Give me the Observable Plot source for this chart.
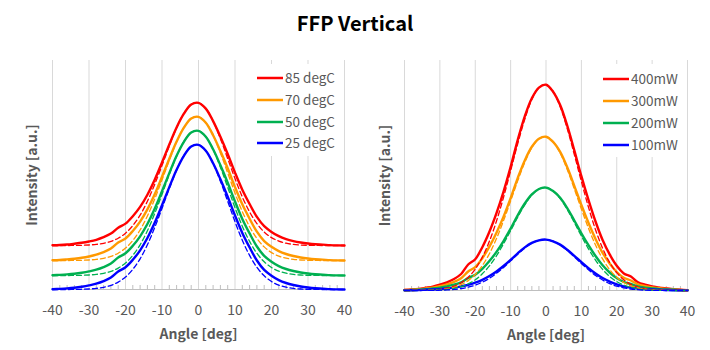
<!DOCTYPE html>
<html><head><meta charset="utf-8">
<script src="https://cdn.jsdelivr.net/npm/d3@7"></script>
<script src="https://cdn.jsdelivr.net/npm/@observablehq/plot@0.6"></script>
<style>
body{margin:0;background:#fff;font-family:"Noto Sans CJK JP","Noto Sans",sans-serif;}
#wrap{width:710px;height:350px;position:relative;overflow:hidden;}
#title{position:absolute;left:0;top:0;width:710px;height:46px;line-height:46px;text-align:center;font-weight:bold;font-size:20px;color:#000;}
#row{position:absolute;top:45px;left:0;display:flex;}
</style></head><body>
<div id="wrap"><div id="title">FFP Vertical</div><div id="row"></div></div>
<script>
const titleText = "FFP Vertical";
const xLabel = "Angle [deg]";
const yLabel = "Intensity [a.u.]";
const xTicks = [-40,-30,-20,-10,0,10,20,30,40];
const angles = [-40,-38,-36,-34,-32,-30,-28,-26,-24,-22,-20,-18,-16,-14,-12,-10,-8,-6,-4,-2,0,2,4,6,8,10,12,14,16,18,20,22,24,26,28,30,32,34,36,38,40];

// Left panel: temperature series (measured, solid)
const tempNames = ["85 degC","70 degC","50 degC","25 degC"];
const t85 = [44.2,44.5,45.0,45.8,46.7,48.0,49.7,52.3,55.9,61.8,65.9,73.3,82.6,94.8,109.8,127.1,145.0,162.1,175.8,185.0,186.7,180.9,168.4,152.7,135.5,116.9,99.8,85.5,72.6,63.3,57.6,53.3,50.4,48.4,47.0,46.0,45.3,44.9,44.4,44.1,44.0];
const t70 = [29.2,29.5,30.1,30.8,31.7,33.0,34.8,37.4,41.0,46.9,51.0,58.5,67.9,80.1,95.2,112.7,130.7,147.9,161.8,171.0,172.7,166.8,154.3,138.4,121.2,102.4,85.2,70.8,57.8,48.4,42.7,38.4,35.5,33.5,32.0,31.0,30.3,29.9,29.4,29.1,29.0];
const t50 = [14.2,14.6,15.1,15.8,16.8,18.1,19.8,22.4,26.0,32.0,36.2,43.7,53.2,65.5,80.7,98.2,116.4,133.8,147.7,157.0,158.7,152.8,140.2,124.2,106.8,88.0,70.6,56.1,43.0,33.6,27.8,23.4,20.5,18.5,17.0,16.0,15.3,14.9,14.4,14.1,14.0];
const t25 = [0.2,0.6,1.1,1.8,2.8,4.1,5.8,8.4,12.0,18.0,22.2,29.7,39.2,51.5,66.7,84.2,102.4,119.8,133.7,143.0,144.7,138.8,126.2,110.2,92.8,74.0,56.6,42.1,29.0,19.6,13.8,9.4,6.5,4.5,3.0,2.0,1.3,0.9,0.4,0.1,0];
// Left panel: fits (dashed)
const t85fit = [44,44,44,44.1,44.2,44.5,45.1,46.2,48.1,51.3,56.3,63.9,74.3,88.2,105.1,123.9,143.5,161.7,176.1,185.0,186.7,181.0,168.4,150.8,130.9,110.9,92.6,77.6,65.9,57.5,51.9,48.4,46.3,45.1,44.5,44.2,44.1,44,44,44,44];
const t70fit = [29,29,29,29.1,29.2,29.5,30.1,31.2,33.1,36.3,41.4,49.0,59.5,73.5,90.5,109.5,129.2,147.5,162.1,171.0,172.7,167.0,154.3,136.6,116.6,96.4,78.0,62.8,51.0,42.6,36.9,33.4,31.3,30.1,29.5,29.2,29.1,29,29,29,29];
const t50fit = [14,14,14,14.1,14.2,14.5,15.1,16.2,18.1,21.4,26.5,34.2,44.7,58.8,75.9,95.1,114.9,133.3,148.0,157.0,158.7,152.9,140.2,122.3,102.2,81.9,63.3,48.1,36.2,27.7,22.0,18.4,16.3,15.1,14.5,14.2,14.1,14,14,14,14];
const t25fit = [0,0,0,0.1,0.2,0.5,1.1,2.2,4.1,7.4,12.5,20.2,30.7,44.8,61.9,81.1,100.9,119.3,134.0,143.0,144.7,138.9,126.2,108.3,88.2,67.9,49.3,34.1,22.2,13.7,8.0,4.4,2.3,1.1,0.5,0.2,0.1,0,0,0,0];

// Right panel: power series (measured, solid)
const powNames = ["400mW","300mW","200mW","100mW"];
const p400 = [0.6,1.0,1.6,2.7,3.9,5.8,8.2,11.5,16.5,26.0,31.3,43.3,58.7,77.3,98.9,123.6,150.4,174.1,192.2,202.9,205.8,198.8,185.4,164.8,140.1,114.3,90.6,69.0,50.5,36.1,24.7,17.1,14.0,8.2,5.8,4.1,2.9,2.1,1.4,0.8,0.4];
const p300 = [0.5,0.8,1.2,2.0,2.9,4.3,6.2,8.6,12.3,19.0,23.4,32.3,43.9,57.8,73.9,92.4,112.4,130.1,143.7,151.7,153.8,148.6,138.6,123.2,104.7,85.5,67.8,51.6,37.7,27.0,18.5,12.8,10.0,6.2,4.3,3.1,2.2,1.5,1.1,0.6,0.3];
const p200 = [0.3,0.5,0.8,1.3,2.0,2.9,4.1,5.8,8.2,12.5,15.7,21.6,29.4,38.6,49.4,61.8,75.2,87.0,96.1,101.5,102.9,99.4,92.7,82.4,70.0,57.2,45.3,34.5,25.2,18.0,12.4,8.5,6.5,4.1,2.9,2.1,1.4,1.0,0.7,0.4,0.2];
const p100 = [0.2,0.3,0.4,0.7,1.0,1.4,2.0,2.9,4.1,5.6,7.8,10.7,14.5,19.1,24.5,30.6,37.2,43.1,47.6,50.2,50.9,49.2,45.9,40.8,34.7,28.3,22.4,17.1,12.5,8.9,6.1,4.2,2.9,2.0,1.4,1.0,0.7,0.5,0.4,0.2,0.1];
// Right panel: fits (dashed)
const p400fit = [0,0,0.1,0.3,0.6,1.2,2.3,4.3,7.8,13.2,21.4,33.4,49.2,69.4,93.3,119.7,146.7,171.2,191.0,202.9,205.8,199.2,183.8,161.9,136.0,109.0,83.4,60.8,42.2,28.0,17.8,10.7,6.2,3.4,1.8,0.9,0.4,0.2,0.1,0,0];
const p300fit = [0,0,0.1,0.2,0.4,0.9,1.7,3.2,5.8,9.9,16.0,24.9,36.8,51.9,69.8,89.5,109.6,128.0,142.8,151.7,153.8,148.9,137.4,121.0,101.6,81.5,62.4,45.4,31.6,20.9,13.3,8.0,4.6,2.6,1.3,0.7,0.3,0.1,0.1,0,0];
const p200fit = [0,0,0.1,0.1,0.3,0.6,1.2,2.2,3.9,6.6,10.7,16.7,24.6,34.7,46.7,59.8,73.3,85.6,95.5,101.5,102.9,99.6,91.9,81.0,68.0,54.5,41.7,30.4,21.1,14.0,8.9,5.4,3.1,1.7,0.9,0.4,0.2,0.1,0,0,0];
const p100fit = [0,0,0,0.1,0.1,0.3,0.6,1.1,1.9,3.3,5.3,8.3,12.2,17.2,23.1,29.6,36.3,42.4,47.3,50.2,50.9,49.3,45.5,40.1,33.7,27.0,20.7,15.0,10.5,6.9,4.4,2.7,1.5,0.8,0.4,0.2,0.1,0,0,0,0];

const colors = ["#ff0000","#ff9900","#00b050","#0000ff"];
const FONT = '"Noto Sans CJK JP","Noto Sans",sans-serif';
const minorTicks = d3.range(-38, 40, 2).filter(v => v % 10 !== 0);

function panel(cfg) {
  const marks = [
    Plot.ruleX(xTicks, {stroke: "#d9d9d9", strokeWidth: 1}),
    Plot.ruleX(minorTicks, {y1: 0, y2: 4, stroke: "#bfbfbf", strokeWidth: 1}),
    Plot.ruleY([0], {stroke: "#bfbfbf", strokeWidth: 1})
  ];
  cfg.solid.forEach((arr, k) => {
    marks.push(Plot.line(arr, {x: (d, i) => angles[i], y: d => d, stroke: colors[k], strokeWidth: 2.4, curve: "catmull-rom", strokeLinejoin: "round"}));
  });
  cfg.dashed.forEach((arr, k) => {
    marks.push(Plot.line(arr, {x: (d, i) => angles[i], y: d => d, stroke: colors[k], strokeWidth: 1.3, strokeDasharray: "5,3", curve: "catmull-rom"}));
  });
  marks.push(
    Plot.axisX({ticks: xTicks, tickSize: 0, tickPadding: 16, fontSize: 14, color: "#595959", label: null, tickFormat: d => String(d)}),
    Plot.text([xLabel], {frameAnchor: "bottom", dy: 45, lineAnchor: "middle", textAnchor: "middle", fontSize: 14, fontWeight: "bold", fill: "#595959"}),
    Plot.text([yLabel], {frameAnchor: "left", rotate: -90, dx: cfg.yLabelDx, lineAnchor: "middle", textAnchor: "middle", fontSize: 14, fontWeight: "bold", fill: "#595959"})
  );
  const svg = Plot.plot({
    width: 355, height: 305,
    marginLeft: cfg.mL, marginRight: cfg.mR, marginTop: 15, marginBottom: cfg.mB,
    x: {domain: [-40, 40]},
    y: {domain: [0, cfg.yMax], axis: null},
    style: {fontFamily: FONT, background: "white", overflow: "visible"},
    marks
  });
  const s = d3.select(svg);
  const lg = s.append("g");
  lg.append("rect").attr("x", cfg.box[0]).attr("y", cfg.box[1]).attr("width", cfg.box[2]).attr("height", cfg.box[3]).attr("fill", "white");
  cfg.names.forEach((name, k) => {
    const y = cfg.rowY[k];
    lg.append("line").attr("x1", cfg.lineX[0]).attr("x2", cfg.lineX[1]).attr("y1", y).attr("y2", y)
      .attr("stroke", colors[k]).attr("stroke-width", 2.5);
    lg.append("text").attr("x", cfg.lineX[1] + 2).attr("y", y).attr("dy", "0.35em")
      .attr("text-anchor", "start")
      .attr("font-size", 13.5).attr("fill", "#595959").attr("font-family", FONT).text(name);
  });
  return svg;
}

const row = document.getElementById("row");
row.appendChild(panel({
  mL: 52, mR: 11, mB: 61, yMax: 229, yLabelDx: -20,
  solid: [t85, t70, t50, t25], dashed: [t85fit, t70fit, t50fit, t25fit],
  names: tempNames, box: [250, 19, 93, 92], lineX: [257, 283], rowY: [33, 55, 77, 98]
}));
row.appendChild(panel({
  mL: 49, mR: 23, mB: 60, yMax: 230, yLabelDx: -19,
  solid: [p400, p300, p200, p100], dashed: [p400fit, p300fit, p200fit, p100fit],
  names: powNames, box: [241, 19, 90, 93], lineX: [248, 274], rowY: [34, 56, 78, 100]
}));
</script>
</body></html>
